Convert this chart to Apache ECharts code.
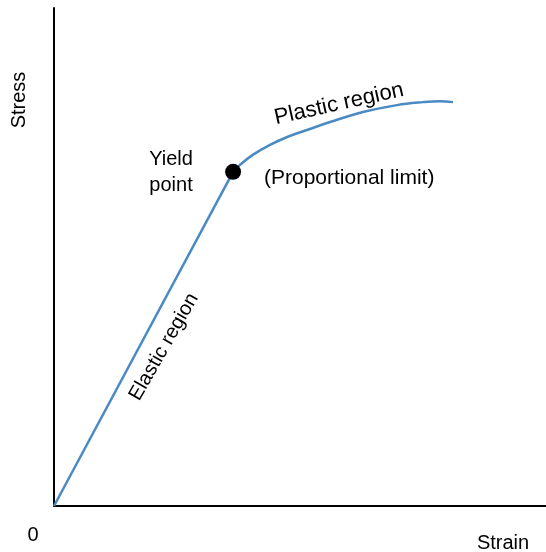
<!DOCTYPE html>
<html>
<head>
<meta charset="utf-8">
<script src="https://cdn.jsdelivr.net/npm/echarts@6/dist/echarts.min.js"></script>
<style type="text/css">
	html,body{margin:0;padding:0;background:#fff;}
	#chart{width:546px;height:552px;}
</style>
</head>
<body>
<div id="chart"></div>
<script>
	// strain / stress in relative units (axis 0..100)
	var elastic_data = [[0, 0], [36.4, 67.1]];
	var plastic_data = [
		[36.4, 67.1], [37.8, 68.5], [40.4, 70.5], [43.9, 72.5], [47.4, 74.1],
		[51.4, 75.5], [56.1, 77.1], [62.8, 79.1], [69.7, 80.5], [75.0, 81.1],
		[78.5, 81.3], [81.1, 81.1]
	];
	var yield_point = [[36.4, 67.1]];

	var font = '"Liberation Sans", Arial, sans-serif';
	var chart = echarts.init(document.getElementById('chart'));
	var option = {
		animation: false,
		grid: {left: 54, top: 8, right: 0, bottom: 46},
		xAxis: {
			type: 'value', min: 0, max: 100,
			axisLine: {show: true, onZero: false, lineStyle: {color: '#000', width: 2}},
			axisTick: {show: false}, axisLabel: {show: false}, splitLine: {show: false}
		},
		yAxis: {
			type: 'value', min: 0, max: 100,
			axisLine: {show: true, onZero: false, lineStyle: {color: '#000', width: 2}},
			axisTick: {show: false}, axisLabel: {show: false}, splitLine: {show: false}
		},
		series: [
			{
				name: 'Elastic', type: 'line', data: elastic_data, symbol: 'none',
				lineStyle: {color: '#4a8ac4', width: 2.5}
			},
			{
				name: 'Plastic', type: 'line', data: plastic_data, symbol: 'none', smooth: 0.4,
				lineStyle: {color: '#4a8ac4', width: 2.5}
			},
			{
				name: 'Yield', type: 'scatter', data: yield_point, symbolSize: 16,
				itemStyle: {color: '#000', opacity: 1}, z: 5
			}
		],
		graphic: [
			{type: 'text', x: 19, y: 100, rotation: Math.PI / 2,
				style: {text: 'Stress', font: '20px ' + font, fill: '#000', align: 'center', verticalAlign: 'middle'}},
			{type: 'text', x: 33, y: 535,
				style: {text: '0', font: '20px ' + font, fill: '#000', align: 'center', verticalAlign: 'middle'}},
			{type: 'text', x: 503, y: 543,
				style: {text: 'Strain', font: '20px ' + font, fill: '#000', align: 'center', verticalAlign: 'middle'}},
			{type: 'text', x: 171, y: 172,
				style: {text: 'Yield\npoint', font: '20px ' + font, lineHeight: 26, fill: '#000', align: 'center', verticalAlign: 'middle'}},
			{type: 'text', x: 264, y: 178,
				style: {text: '(Proportional limit)', font: '21px ' + font, fill: '#000', align: 'left', verticalAlign: 'middle'}},
			{type: 'text', x: 339, y: 104, rotation: 0.22,
				style: {text: 'Plastic region', font: '22px ' + font, fill: '#000', align: 'center', verticalAlign: 'middle'}},
			{type: 'text', x: 164, y: 347, rotation: 1.05,
				style: {text: 'Elastic region', font: '20px ' + font, fill: '#000', align: 'center', verticalAlign: 'middle'}}
		]
	};
	chart.setOption(option);
</script>
</body>
</html>
